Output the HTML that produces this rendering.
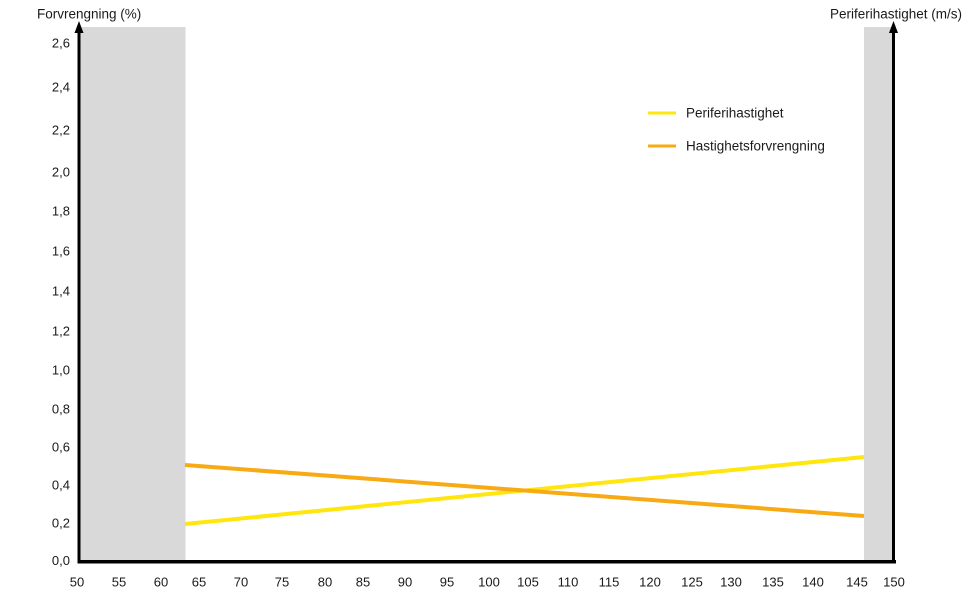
<!DOCTYPE html>
<html>
<head>
<meta charset="utf-8">
<style>
html,body{margin:0;padding:0;background:#fff;}
svg{display:block;}
text{font-family:"Liberation Sans",Arial,sans-serif;fill:#1a1a1a;}
</style>
</head>
<body>
<svg width="975" height="612" viewBox="0 0 975 612" xmlns="http://www.w3.org/2000/svg">
  <!-- grey regions -->
  <rect x="80" y="27" width="105.5" height="534" fill="#d9d9d9"/>
  <rect x="864" y="27" width="29" height="534" fill="#d9d9d9"/>

  <!-- data lines -->
  <line x1="185" y1="524" x2="864" y2="457" stroke="#ffe60f" stroke-width="4"/>
  <line x1="185" y1="465" x2="864" y2="516" stroke="#f8aa14" stroke-width="4"/>

  <!-- axes -->
  <line x1="79" y1="30" x2="79" y2="563.5" stroke="#000" stroke-width="3"/>
  <line x1="893.5" y1="30" x2="893.5" y2="563.5" stroke="#000" stroke-width="3"/>
  <line x1="77.5" y1="561.8" x2="896" y2="561.8" stroke="#000" stroke-width="3.5"/>
  <polygon points="79,21 74.5,33 83.5,33" fill="#000"/>
  <polygon points="893.5,21 889,33 898,33" fill="#000"/>

  <!-- axis titles -->
  <text x="37" y="18.5" font-size="13.5">Forvrengning (%)</text>
  <text x="830" y="18.5" font-size="13.5">Periferihastighet (m/s)</text>

  <!-- y tick labels -->
  <g font-size="13" text-anchor="end">
    <text x="70" y="47.5">2,6</text>
    <text x="70" y="91.5">2,4</text>
    <text x="70" y="134.5">2,2</text>
    <text x="70" y="176.5">2,0</text>
    <text x="70" y="215.5">1,8</text>
    <text x="70" y="255.5">1,6</text>
    <text x="70" y="295.5">1,4</text>
    <text x="70" y="335.5">1,2</text>
    <text x="70" y="374.5">1,0</text>
    <text x="70" y="413.5">0,8</text>
    <text x="70" y="451.5">0,6</text>
    <text x="70" y="489.5">0,4</text>
    <text x="70" y="527.5">0,2</text>
    <text x="70" y="565">0,0</text>
  </g>

  <!-- x tick labels -->
  <g font-size="13" text-anchor="middle">
    <text x="77" y="586.5">50</text>
    <text x="119" y="586.5">55</text>
    <text x="161" y="586.5">60</text>
    <text x="199" y="586.5">65</text>
    <text x="241" y="586.5">70</text>
    <text x="282" y="586.5">75</text>
    <text x="325" y="586.5">80</text>
    <text x="363" y="586.5">85</text>
    <text x="405" y="586.5">90</text>
    <text x="447" y="586.5">95</text>
    <text x="489" y="586.5">100</text>
    <text x="528" y="586.5">105</text>
    <text x="568" y="586.5">110</text>
    <text x="609" y="586.5">115</text>
    <text x="650" y="586.5">120</text>
    <text x="692" y="586.5">125</text>
    <text x="731" y="586.5">130</text>
    <text x="773" y="586.5">135</text>
    <text x="813" y="586.5">140</text>
    <text x="857" y="586.5">145</text>
    <text x="894" y="586.5">150</text>
  </g>

  <!-- legend -->
  <line x1="648" y1="113" x2="676" y2="113" stroke="#ffe60f" stroke-width="3"/>
  <text x="686" y="117.5" font-size="13.5">Periferihastighet</text>
  <line x1="648" y1="146" x2="676" y2="146" stroke="#f8aa14" stroke-width="3"/>
  <text x="686" y="150.5" font-size="13.5">Hastighetsforvrengning</text>
</svg>
</body>
</html>
